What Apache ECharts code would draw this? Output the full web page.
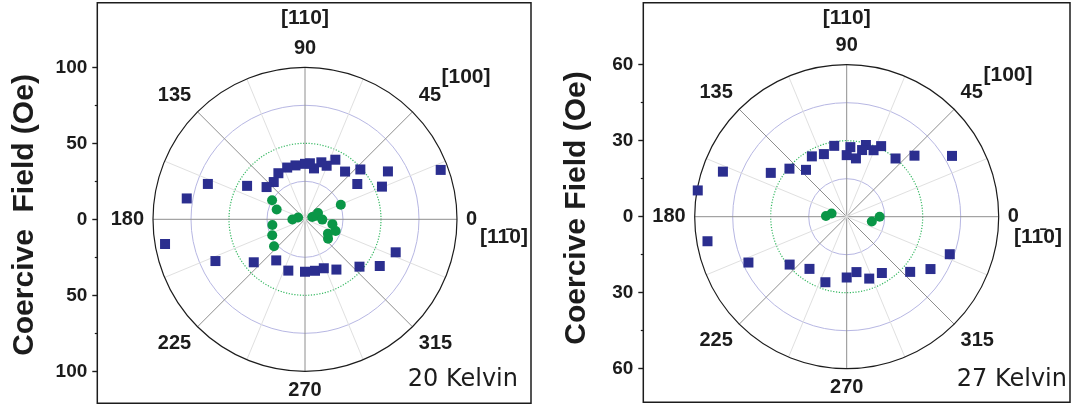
<!DOCTYPE html>
<html>
<head>
<meta charset="utf-8">
<script src="https://cdn.jsdelivr.net/npm/echarts@6/dist/echarts.min.js"></script>
<style>
  html, body { margin: 0; padding: 0; background: #ffffff; }
  #chart { width: 1075px; height: 407px; }
</style>
</head>
<body>
<div id="chart"></div>
<script>
// ---- 20 Kelvin: coercive field (Oe) vs in-plane field angle (deg) ----
const sqAngle20 = [20, 23, 30, 34, 42, 50, 63, 68, 74, 80, 85, 90, 100, 109, 120, 130,
                   140, 150, 160, 170, 190, 205, 220, 235, 252, 270, 281, 291, 302, 319, 328, 340];
const sqField20 = [95, 55, 63, 41.5, 49, 41, 44, 38, 39, 34, 37, 36.5, 36, 36, 35, 32,
                   33, 44, 68, 79, 93.5, 65, 44, 33, 35.5, 34.5, 34.5, 34.5, 39, 47.5, 58, 63.5];
const dotAngle20 = [17, 17, 22, 26, 150, 161, 166, 181, 190, 206, 221, 320, 328, 339, 350, 359];
const dotField20 = [5, 8, 25.4, 9.5, 25, 19.7, 4.7, 8.3, 21.8, 24, 27, 19.8, 17.8, 21.6, 18.3, 11.4];

// ---- 27 Kelvin ----
const sqAngle27 = [30, 42, 50, 64, 68, 75, 77, 81, 87, 90, 100, 110, 120, 131, 140,
                   150, 160, 170, 190, 205, 220, 234.5, 252, 270, 280, 290, 302, 319, 328, 340];
const sqField27 = [48, 36, 30, 31, 28.3, 29.3, 27, 23.3, 27.5, 24.3, 28.4, 26.3, 27.5, 24.5, 29.5,
                   34.6, 52, 59.7, 55.8, 42.8, 29.4, 25.3, 27.2, 24, 22.2, 26, 26.2, 33.2, 39, 43.3];
const dotAngle27 = [168, 178, 349, 0];
const dotField27 = [6.1, 8.2, 10.1, 13];

// axis ranges and tick steps
const fieldMax20 = 100, fieldStep20 = 25, fieldLabelStep20 = 50;
const fieldMax27 = 60, fieldStep27 = 15, fieldLabelStep27 = 30;
const angleStep = 45;

const FONT = '"Liberation Sans", Arial, Helvetica, sans-serif';
const INK = '#1c1c1c';
const SQUARE_COLOR = '#2b2e8f';
const DOT_COLOR = '#0a9647';
const RING_BLUE = '#b7b7e3';
const RING_GREEN = '#36b862';

// panel layout (pixels)
const panels = [
  { cx: 305, cy: 219.3, r: 152, box: [97.3, 2.7, 433.7, 400.6], max: fieldMax20, step: fieldStep20,
    labelStep: fieldLabelStep20, title: 'Coercive  Field (Oe)', titleX: 25, titleY: 215,
    temp: '20 Kelvin', tempX: 518, dirTop: [305, 18], dir100: [466, 77], dir1m10: [504, 237],
    sqA: sqAngle20, sqR: sqField20, dA: dotAngle20, dR: dotField20 },
  { cx: 846.7, cy: 216.7, r: 152, box: [643.3, 2.7, 426.7, 399.6], max: fieldMax27, step: fieldStep27,
    labelStep: fieldLabelStep27, title: 'Coercive Field (Oe)', titleX: 576.5, titleY: 208,
    temp: '27 Kelvin', tempX: 1067, dirTop: [846.7, 18], dir100: [1008, 75], dir1m10: [1038, 237.5],
    sqA: sqAngle27, sqR: sqField27, dA: dotAngle27, dR: dotField27 }
];

const option = {
  animation: false,
  backgroundColor: '#ffffff',
  polar: [], angleAxis: [], radiusAxis: [],
  grid: [], xAxis: [], yAxis: [],
  series: [], graphic: []
};

panels.forEach((p, i) => {
  const mainPolar = 2 * i, ringPolar = 2 * i + 1;
  option.polar.push({ center: [p.cx, p.cy], radius: p.r });
  option.polar.push({ center: [p.cx, p.cy], radius: p.r });

  option.angleAxis.push({
    polarIndex: mainPolar, type: 'value', min: 0, max: 360, interval: angleStep,
    startAngle: 0, clockwise: false,
    axisLine: { lineStyle: { color: INK, width: 1.2 } },
    axisTick: { show: false },
    axisLabel: {
      margin: 9, color: INK, fontFamily: FONT, fontWeight: 'bold', fontSize: 20,
      formatter: v => (v === 360 ? '' : String(v))
    },
    splitLine: { show: true, lineStyle: { color: '#8e8e8e', width: 1 } },
    minorTick: { show: false, splitNumber: 2 },
    minorSplitLine: { show: true, lineStyle: { color: '#e0e0e0', width: 1 } }
  });
  option.angleAxis.push({ polarIndex: ringPolar, type: 'value', min: 0, max: 360, show: false });

  option.radiusAxis.push({
    polarIndex: mainPolar, type: 'value', min: 0, max: p.max, interval: p.step,
    axisLine: { show: false }, axisTick: { show: false }, axisLabel: { show: false },
    splitLine: { show: true, lineStyle: {
      color: ['transparent', RING_BLUE, 'transparent', RING_BLUE, 'transparent'], width: 1 } }
  });
  // dotted green ring at half of full scale
  option.radiusAxis.push({
    polarIndex: ringPolar, type: 'value', min: 0, max: p.max, interval: p.max / 2,
    axisLine: { show: false }, axisTick: { show: false }, axisLabel: { show: false },
    splitLine: { show: true, lineStyle: {
      color: ['transparent', RING_GREEN, 'transparent'], width: 1.2, type: [1.2, 1.6] } }
  });

  // vertical field scale on the frame's left edge
  option.grid.push({ left: p.box[0], top: p.cy - p.r, width: 10, height: 2 * p.r,
                     outerBoundsMode: 'none', containLabel: false });
  option.xAxis.push({ gridIndex: i, type: 'value', show: false, min: 0, max: 1 });
  option.yAxis.push({
    gridIndex: i, type: 'value', min: -p.max, max: p.max, interval: p.labelStep,
    axisLine: { show: false },
    axisTick: { show: true, inside: false, length: 5, lineStyle: { color: INK, width: 1.4 } },
    minorTick: { show: true, splitNumber: 2, length: 2.5, lineStyle: { color: INK, width: 1.2 } },
    splitLine: { show: false },
    axisLabel: { margin: 10, color: INK, fontFamily: FONT, fontWeight: 'bold', fontSize: 19,
                 formatter: v => String(Math.abs(v)) }
  });

  option.series.push({
    type: 'scatter', coordinateSystem: 'polar', polarIndex: mainPolar,
    symbol: 'rect', symbolSize: 10, z: 5,
    itemStyle: { color: SQUARE_COLOR, opacity: 1 },
    data: p.sqA.map((a, k) => [p.sqR[k], a])
  });
  option.series.push({
    type: 'scatter', coordinateSystem: 'polar', polarIndex: mainPolar,
    symbol: 'circle', symbolSize: 10, z: 6,
    itemStyle: { color: DOT_COLOR, opacity: 1 },
    data: p.dA.map((a, k) => [p.dR[k], a])
  });

  // frame
  option.graphic.push({
    type: 'rect', silent: true, z: 10,
    shape: { x: p.box[0], y: p.box[1], width: p.box[2], height: p.box[3] },
    style: { fill: 'none', stroke: INK, lineWidth: 1.5 }
  });
  // crystal direction labels
  const dirStyle = { fill: INK, fontFamily: FONT, fontWeight: 'bold', fontSize: 21,
                     align: 'center', verticalAlign: 'middle' };
  option.graphic.push({ type: 'text', silent: true, z: 10, x: p.dirTop[0], y: p.dirTop[1],
                        style: Object.assign({ text: '[110]' }, dirStyle) });
  option.graphic.push({ type: 'text', silent: true, z: 10, x: p.dir100[0], y: p.dir100[1],
                        style: Object.assign({ text: '[100]' }, dirStyle) });
  option.graphic.push({ type: 'text', silent: true, z: 10, x: p.dir1m10[0], y: p.dir1m10[1],
                        style: Object.assign({ text: '[11\u03040]' }, dirStyle) });
  // temperature tag
  option.graphic.push({ type: 'text', silent: true, z: 10, x: p.tempX, y: 380,
    style: { text: p.temp, fill: INK, fontFamily: '"DejaVu Sans", sans-serif', fontSize: 24,
             align: 'right', verticalAlign: 'middle' } });
  // vertical axis title
  option.graphic.push({ type: 'text', silent: true, z: 10, x: p.titleX, y: p.titleY,
    rotation: Math.PI / 2,
    style: { text: p.title, fill: INK, fontFamily: FONT, fontWeight: 'bold', fontSize: 30,
             align: 'center', verticalAlign: 'middle' } });
});

const chart = echarts.init(document.getElementById('chart'), null, { renderer: 'canvas' });
chart.setOption(option);
</script>
</body>
</html>
